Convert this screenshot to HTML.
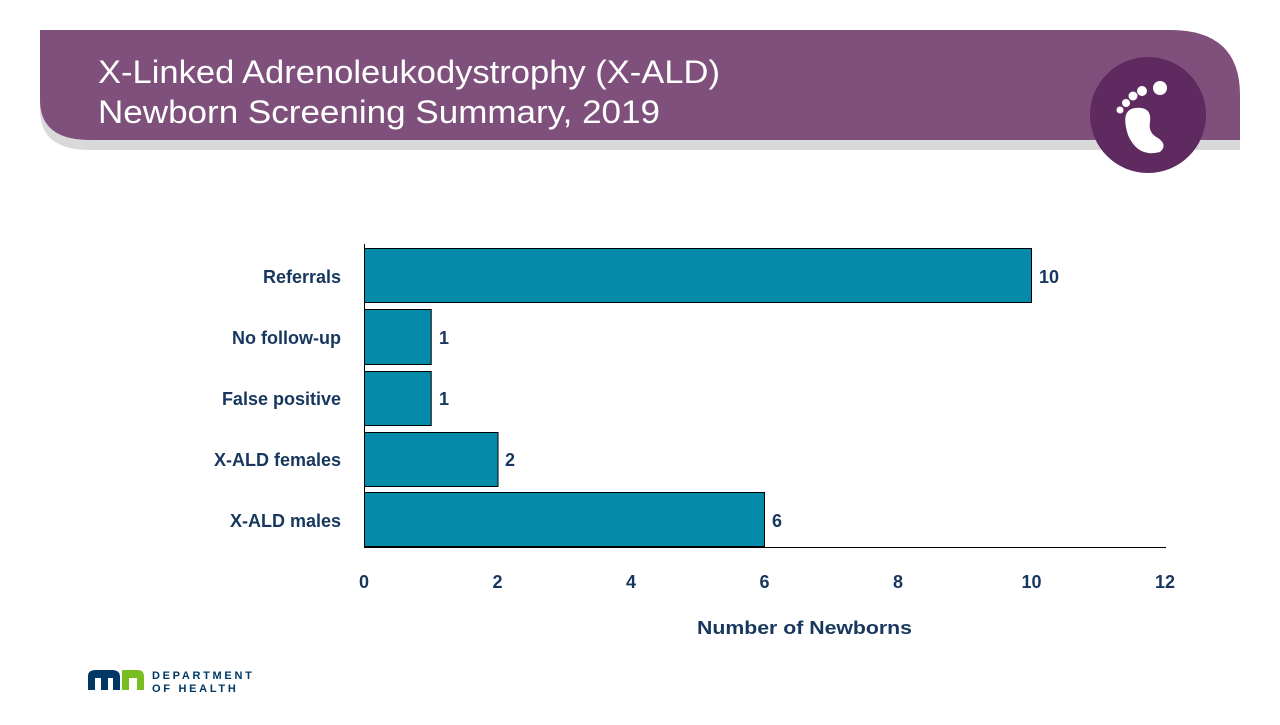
<!DOCTYPE html>
<html><head><style>
body{margin:0;width:1280px;height:720px;background:#fff;overflow:hidden;font-family:"Liberation Sans",sans-serif;}
</style></head><body>
<svg width="1280" height="720" xmlns="http://www.w3.org/2000/svg">
<path d="M40,100 L40,110 Q40,150 90,150 L1240,150 L1240,100Z" fill="#d9d9d9"/>
<path d="M40,30 L1170,30 Q1240,30 1240,95 L1240,140 L90,140 Q40,140 40,100 Z" fill="#7e507b"/>
<text x="98" y="83" font-size="32" fill="#fff" textLength="622" lengthAdjust="spacingAndGlyphs">X-Linked Adrenoleukodystrophy (X-ALD)</text>
<text x="98" y="123" font-size="32" fill="#fff" textLength="562" lengthAdjust="spacingAndGlyphs">Newborn Screening Summary, 2019</text>
<circle cx="1148" cy="115" r="58" fill="#5e2a60"/>
<circle cx="1160" cy="88" r="7" fill="#fff"/>
<circle cx="1142" cy="91" r="5" fill="#fff"/>
<circle cx="1133" cy="96" r="4.5" fill="#fff"/>
<circle cx="1126" cy="103" r="4" fill="#fff"/>
<circle cx="1120" cy="110" r="3.5" fill="#fff"/>
<path d="M1135,108 Q1120,110 1128,135 Q1138,158 1160,152 Q1168,145 1158,138 Q1148,133 1150,122 Q1152,106 1135,108Z" fill="#fff"/>
<g fill="#058ba9" stroke="#000" stroke-width="1">
<rect x="364.5" y="248.5" width="667" height="54"/>
<rect x="364.5" y="309.5" width="66.7" height="55"/>
<rect x="364.5" y="371.5" width="66.7" height="54"/>
<rect x="364.5" y="432.5" width="133.5" height="54"/>
<rect x="364.5" y="492.5" width="400" height="54"/>
</g>
<line x1="364.5" y1="244" x2="364.5" y2="548" stroke="#000"/>
<line x1="364" y1="547.5" x2="1166" y2="547.5" stroke="#000"/>
<g font-size="18" font-weight="bold" fill="#17375e">
<g text-anchor="end">
<text x="341" y="283">Referrals</text>
<text x="341" y="344">No follow-up</text>
<text x="341" y="405">False positive</text>
<text x="341" y="466">X-ALD females</text>
<text x="341" y="527">X-ALD males</text>
</g>
<text x="1039" y="283">10</text>
<text x="439" y="344">1</text>
<text x="439" y="405">1</text>
<text x="505" y="466">2</text>
<text x="772" y="527">6</text>
<g text-anchor="middle">
<text x="364" y="588">0</text>
<text x="497.5" y="588">2</text>
<text x="631" y="588">4</text>
<text x="764.5" y="588">6</text>
<text x="898" y="588">8</text>
<text x="1031.5" y="588">10</text>
<text x="1165" y="588">12</text>
</g>
<text x="697" y="634" textLength="215" lengthAdjust="spacingAndGlyphs">Number of Newborns</text>
</g>
<path d="M88,690 L88,676 Q88,670 96,670 L112,670 Q120,670 120,677 L120,690 L113,690 L113,678 L108,678 L108,690 L101,690 L101,678 L95,678 L95,690Z" fill="#003865"/>
<path d="M122,690 L122,670 L138,670 Q144,670 144,677 L144,690 L137,690 L137,678 L129,678 L129,690Z" fill="#78be20"/>
<text x="152" y="679" font-size="11" font-weight="bold" fill="#003865" letter-spacing="1.2" textLength="101">DEPARTMENT</text>
<text x="152" y="692" font-size="11" font-weight="bold" fill="#003865" letter-spacing="1.2" textLength="85">OF HEALTH</text>
</svg>
</body></html>
